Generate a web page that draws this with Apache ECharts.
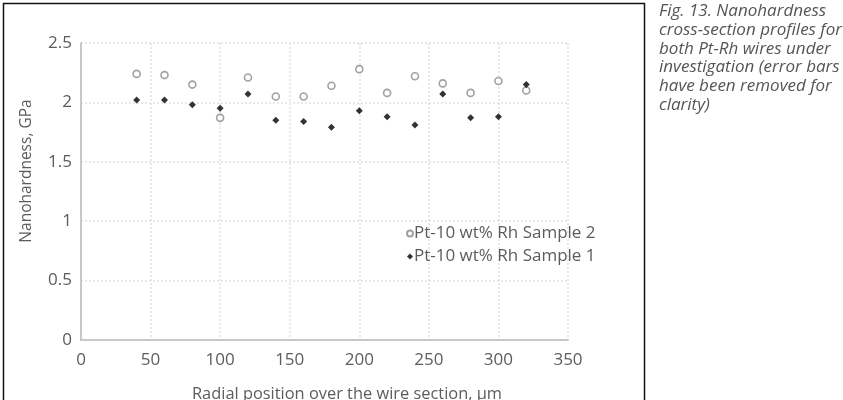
<!DOCTYPE html>
<html>
<head>
<meta charset="utf-8">
<script src="https://cdn.jsdelivr.net/npm/echarts@6/dist/echarts.min.js"></script>
<style>
  html, body { margin: 0; padding: 0; background: #fff; }
  #chart { width: 843px; height: 400px; }
</style>
</head>
<body>
<div id="chart"></div>
<script>
// radial positions, um
var positions = [40, 60, 80, 100, 120, 140, 160, 180, 200, 220, 240, 260, 280, 300, 320];
// nanohardness, GPa
var sample2 = [2.24, 2.23, 2.15, 1.87, 2.21, 2.05, 2.05, 2.14, 2.28, 2.08, 2.22, 2.16, 2.08, 2.18, 2.10];
var sample1 = [2.02, 2.02, 1.98, 1.95, 2.07, 1.85, 1.84, 1.79, 1.93, 1.88, 1.81, 2.07, 1.87, 1.88, 2.15];
var seriesNames = ['Pt-10 wt% Rh Sample 2', 'Pt-10 wt% Rh Sample 1'];
var captionLines = [
  'Fig. 13. Nanohardness',
  'cross-section profiles for',
  'both Pt-Rh wires under',
  'investigation (error bars',
  'have been removed for',
  'clarity)'
];

function pairs(xs, ys) {
  return xs.map(function (x, i) { return [x, ys[i]]; });
}

var font = '"Open Sans", "Noto Sans", sans-serif';
var textColor = '#5c5c5c';

var myChart = echarts.init(document.getElementById('chart'));

var option = {
  backgroundColor: '#fff',
  animation: false,
  textStyle: { fontFamily: font },
  grid: { left: 81, right: 275, top: 43, bottom: 60 },
  legend: {
    orient: 'vertical',
    left: 401,
    top: 220,
    itemWidth: 6,
    itemHeight: 6,
    itemGap: 6,
    textStyle: { fontSize: 17, color: textColor, fontFamily: font, padding: [0, 0, 0, -4] },
    data: [
      { name: seriesNames[0], icon: 'circle' },
      { name: seriesNames[1], icon: 'diamond' }
    ]
  },
  xAxis: {
    type: 'value',
    min: 0,
    max: 350,
    interval: 50,
    axisLine: { show: true, lineStyle: { color: '#c8c8c8', width: 2 } },
    axisTick: { show: false },
    axisLabel: { fontSize: 17, color: textColor, margin: 12 },
    splitLine: { show: true, lineStyle: { color: '#e8e8e8', type: 'dotted', width: 2 } }
  },
  yAxis: {
    type: 'value',
    min: 0,
    max: 2.5,
    interval: 0.5,
    axisLine: { show: true, onZero: false, lineStyle: { color: '#c8c8c8', width: 2 } },
    axisTick: { show: false },
    axisLabel: { fontSize: 17, color: textColor, margin: 9 },
    splitLine: { show: true, lineStyle: { color: '#e8e8e8', type: 'dotted', width: 2 } }
  },
  series: [
    {
      name: seriesNames[0],
      type: 'scatter',
      symbol: 'circle',
      symbolSize: 7,
      itemStyle: { color: '#fff', borderColor: '#8a8a8a', borderWidth: 1.6 },
      data: pairs(positions, sample2),
      z: 2
    },
    {
      name: seriesNames[1],
      type: 'scatter',
      symbol: 'diamond',
      symbolSize: 7,
      itemStyle: { color: '#000' },
      data: pairs(positions, sample1),
      z: 3
    }
  ],
  graphic: [
    {
      type: 'rect',
      shape: { x: 3.5, y: 3.5, width: 641, height: 420 },
      style: { fill: null, stroke: '#111', lineWidth: 1.5 },
      silent: true
    },
    {
      type: 'text',
      x: 27,
      y: 171,
      rotation: Math.PI / 2,
      style: {
        text: 'Nanohardness, GPa',
        fontSize: 15.5,
        fontFamily: font,
        fill: textColor,
        align: 'center',
        verticalAlign: 'middle'
      }
    },
    {
      type: 'text',
      x: 347,
      y: 394,
      style: {
        text: 'Radial position over the wire section, \u00b5m',
        fontSize: 16.4,
        fontFamily: font,
        fill: textColor,
        align: 'center',
        verticalAlign: 'middle'
      }
    },
    {
      type: 'text',
      x: 659,
      y: 2,
      style: {
        text: captionLines.join('\n'),
        fontSize: 17,
        lineHeight: 18.7,
        fontStyle: 'italic',
        fontFamily: font,
        fill: '#555',
        align: 'left',
        verticalAlign: 'top'
      }
    }
  ]
};

myChart.setOption(option);
</script>
</body>
</html>
